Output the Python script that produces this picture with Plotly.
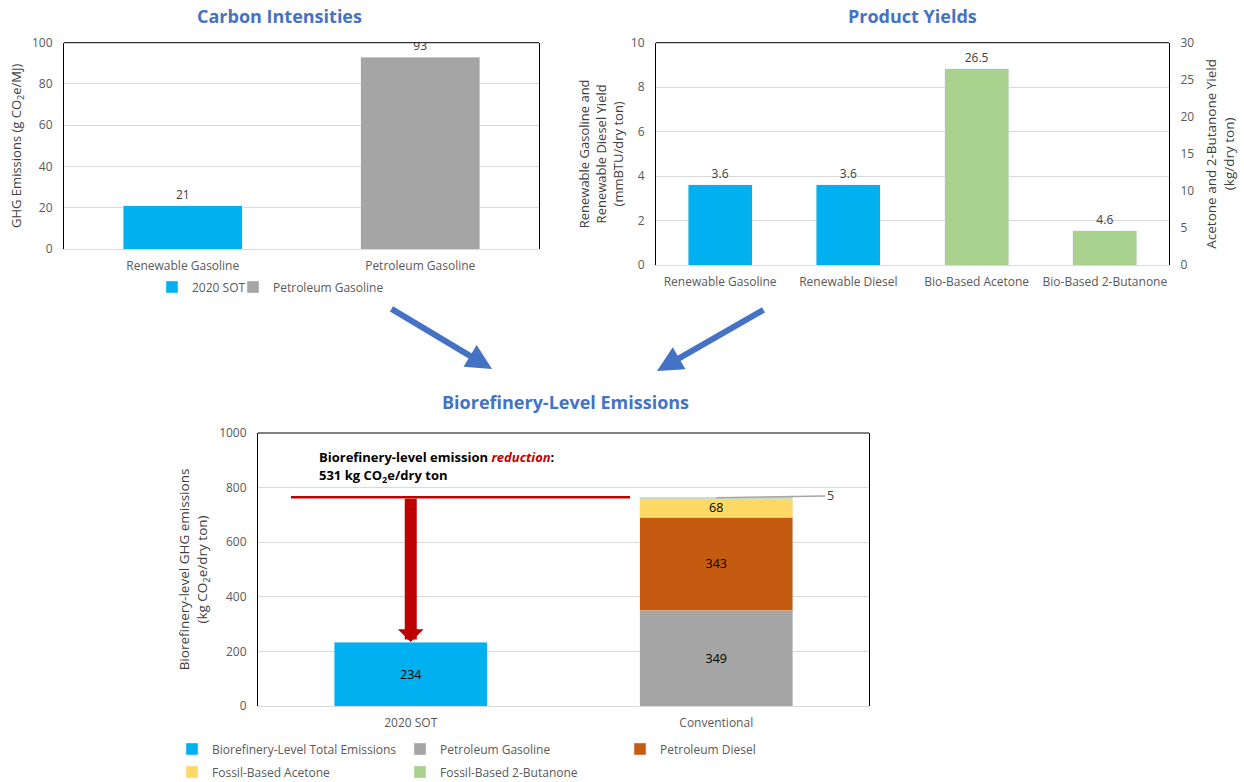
import plotly.graph_objects as go

# ---- Carbon intensities (g CO2e/MJ) ----
ci_categories = ["Renewable Gasoline", "Petroleum Gasoline"]
ci_series = ["2020 SOT", "Petroleum Gasoline"]
ci_values = [21, 93]

# ---- Product yields ----
fuel_products = ["Renewable Gasoline", "Renewable Diesel"]
fuel_yields = [3.6, 3.6]            # mmBTU/dry ton (left axis)
chem_products = ["Bio-Based Acetone", "Bio-Based 2-Butanone"]
chem_yields = [26.5, 4.6]           # kg/dry ton (right axis)

# ---- Biorefinery-level emissions (kg CO2e/dry ton) ----
bio_cases = ["2020 SOT", "Conventional"]
sot_name = "Biorefinery-Level Total Emissions"
sot_total = [234]
conv_components = ["Petroleum Gasoline", "Petroleum Diesel",
                   "Fossil-Based Acetone", "Fossil-Based 2-Butanone"]
conv_values = [349, 343, 68, 5]

W, H = 1244, 782
FONT = "Open Sans"
BLUE = "#00B0F0"
GRAY = "#A5A5A5"
BROWN = "#C55A11"
YELLOW = "#FFD966"
GREEN = "#A9D18E"
RED = "#C00000"
TITLE_BLUE = "#4472C4"
GRID = "#D9D9D9"
TXT = "#595959"
conv_colors = [GRAY, BROWN, YELLOW, GREEN]


def px(x):
    return x / W


def py(y):
    return 1 - y / H


fig = go.Figure()

# Carbon intensities
ci_colors = [BLUE, GRAY]
for i, (cat, name, val) in enumerate(zip(ci_categories, ci_series, ci_values)):
    fig.add_trace(go.Bar(
        x=[cat], y=[val], name=name, marker_color=ci_colors[i],
        text=[f"{val}"], textposition="outside", textangle=0,
        textfont=dict(family=FONT, size=12, color="#404040"),
        xaxis="x", yaxis="y", legend="legend" if i == 0 else "legend2",
    ))

# Product yields
fig.add_trace(go.Bar(
    x=fuel_products, y=fuel_yields, marker_color=BLUE, showlegend=False,
    text=[f"{v:.1f}" for v in fuel_yields], textposition="outside", textangle=0,
    textfont=dict(family=FONT, size=12, color="#404040"),
    xaxis="x2", yaxis="y2",
))
fig.add_trace(go.Bar(
    x=chem_products, y=chem_yields, marker_color=GREEN, showlegend=False,
    text=[f"{v:.1f}" for v in chem_yields], textposition="outside", textangle=0,
    textfont=dict(family=FONT, size=12, color="#404040"),
    xaxis="x2", yaxis="y3",
))

# Biorefinery-level emissions
fig.add_trace(go.Bar(
    x=[bio_cases[0]], y=sot_total, name=sot_name, marker_color=BLUE,
    text=[f"{sot_total[0]}"], textposition="inside", insidetextanchor="middle",
    textangle=0, constraintext="none",
    textfont=dict(family=FONT, size=12.5, color="#000000"),
    xaxis="x3", yaxis="y4", legend="legend3",
))
legend_for = ["legend4", "legend5", "legend6", "legend7"]
for name, val, col, lg in zip(conv_components, conv_values, conv_colors, legend_for):
    fig.add_trace(go.Bar(
        x=[bio_cases[1]], y=[val], name=name, marker_color=col,
        text=[f"{val}"], textposition="inside" if val >= 20 else "none",
        insidetextanchor="middle", textangle=0, constraintext="none",
        textfont=dict(family=FONT, size=12.5, color="#000000"),
        xaxis="x3", yaxis="y4", legend=lg,
    ))

conv_total = sum(conv_values)
reduction = conv_total - sot_total[0]

tick_font = dict(family=FONT, size=12, color=TXT)


def cat_axis(domain, anchor, cats):
    return dict(domain=domain, anchor=anchor, type="category",
                categoryorder="array", categoryarray=cats,
                showline=True, linecolor=GRID, linewidth=1,
                showgrid=False, ticks="", tickfont=tick_font,
                ticklabelstandoff=6, fixedrange=True, automargin=False)


def val_axis(domain, anchor, rng, dtick, title, standoff, size, side="left", grid=True):
    return dict(domain=domain, anchor=anchor, range=rng, dtick=dtick,
                side=side, showline=True, linecolor="#000000", linewidth=1,
                showgrid=grid, gridcolor=GRID, gridwidth=1, zeroline=False,
                ticks="", tickfont=tick_font, ticklabelstandoff=8, automargin=False,
                title=dict(text=title, font=dict(family=FONT, size=size, color="#404040"),
                           standoff=standoff))


ax1 = val_axis([py(249), py(42.7)], "x", [0, 100], 20,
               "GHG Emissions (g CO<sub>2</sub>e/MJ)", 7, 13)
ax1["mirror"] = True
ax2 = val_axis([py(265), py(42.7)], "x2", [0, 10], 2,
               "Renewable Gasoline and<br>Renewable Diesel Yield<br>(mmBTU/dry ton)", 4, 13)
ax3 = val_axis([py(265), py(42.7)], "x2", [0, 30], 5,
               "Acetone and 2-Butanone Yield<br>(kg/dry ton)", 13, 13.5,
               side="right", grid=False)
ax3["overlaying"] = "y2"
ax4 = val_axis([py(706), py(433)], "x3", [0, 1000], 200,
               "Biorefinery-level GHG emissions<br>(kg CO<sub>2</sub>e/dry ton)", 8, 13.5)
ax4["mirror"] = True

fig.update_layout(
    width=W, height=H,
    margin=dict(l=0, r=0, t=0, b=0, autoexpand=False),
    paper_bgcolor="white", plot_bgcolor="white",
    barmode="stack", bargap=0.5,
    font=dict(family=FONT, size=12, color=TXT),
    xaxis=cat_axis([px(64), px(539)], "y", ci_categories),
    yaxis=ax1,
    xaxis2=cat_axis([px(656), px(1169)], "y2", fuel_products + chem_products),
    yaxis2=ax2,
    yaxis3=ax3,
    xaxis3=cat_axis([px(258), px(869)], "y4", bio_cases),
    yaxis4=ax4,
)


def legend_at(x_text, y_center):
    return dict(orientation="h", x=px(x_text - 40), y=py(y_center),
                xanchor="left", yanchor="middle", bgcolor="rgba(0,0,0,0)",
                font=dict(family=FONT, size=12, color=TXT),
                itemclick=False, itemdoubleclick=False)


fig.update_layout(
    legend=legend_at(192, 287),
    legend2=legend_at(273, 287),
    legend3=legend_at(212, 749),
    legend4=legend_at(440, 749),
    legend5=legend_at(660, 749),
    legend6=legend_at(212, 772),
    legend7=legend_at(440, 772),
)

# Frame tops (black) for each panel
for xr, yr in [("x domain", "y domain"), ("x2 domain", "y2 domain"), ("x3 domain", "y4 domain")]:
    fig.add_shape(type="line", xref=xr, yref=yr, x0=0, x1=1, y0=1, y1=1,
                  line=dict(color="#000000", width=1))

# Reference line at the conventional total
fig.add_shape(type="line", xref="x3", yref="y4", x0=-0.392, x1=0.718,
              y0=conv_total, y1=conv_total, line=dict(color=RED, width=2.5))

title_font = dict(family=FONT, size=18, color=TITLE_BLUE)
annotations = [
    # Panel titles
    dict(text="<b>Carbon Intensities</b>", x=px(279), y=py(16), xref="paper", yref="paper",
         xanchor="center", yanchor="middle", showarrow=False, font=title_font),
    dict(text="<b>Product Yields</b>", x=px(912), y=py(16), xref="paper", yref="paper",
         xanchor="center", yanchor="middle", showarrow=False, font=title_font),
    dict(text="<b>Biorefinery-Level Emissions</b>", x=px(565), y=py(402), xref="paper",
         yref="paper", xanchor="center", yanchor="middle", showarrow=False, font=title_font),
    # Flow arrows from the top panels to the bottom panel
    dict(text="", x=px(492), y=py(369), xref="paper", yref="paper", ax=-102, ay=-61,
         showarrow=True, arrowhead=2, arrowwidth=6, arrowsize=0.85, arrowcolor=TITLE_BLUE),
    dict(text="", x=px(657), y=py(371), xref="paper", yref="paper", ax=108, ay=-62,
         showarrow=True, arrowhead=2, arrowwidth=6, arrowsize=0.85, arrowcolor=TITLE_BLUE),
    # Reduction arrow from conventional total down to the SOT total
    dict(text="", x=0, y=sot_total[0], xref="x3", yref="y4", axref="x3", ayref="y4",
         ax=0, ay=conv_total, showarrow=True, arrowhead=1, arrowwidth=12,
         arrowsize=0.36, arrowcolor=RED),
    # Reduction callout
    dict(text=("<b>Biorefinery-level emission "
               f"<i><span style='color:{RED}'>reduction</span></i>:</b>"),
         x=px(317), y=py(457), xref="paper", yref="paper", xanchor="left", yanchor="middle",
         showarrow=False, font=dict(family=FONT, size=13, color="#000000")),
    dict(text=f"<b>{reduction} kg CO<sub>2</sub>e/dry ton</b>",
         x=px(317), y=py(476), xref="paper", yref="paper", xanchor="left", yanchor="middle",
         showarrow=False, font=dict(family=FONT, size=13, color="#000000")),
    # Small top segment label with leader line
    dict(text=f"{conv_values[-1]}", x=bio_cases[1], y=conv_total - conv_values[-1] / 2,
         xref="x3", yref="y4", ax=114, ay=-2, showarrow=True, arrowhead=0,
         arrowwidth=1.5, arrowcolor="#A6A6A6",
         font=dict(family=FONT, size=12.5, color="#404040")),
]
fig.update_layout(annotations=annotations)

fig.write_html("out.html")
